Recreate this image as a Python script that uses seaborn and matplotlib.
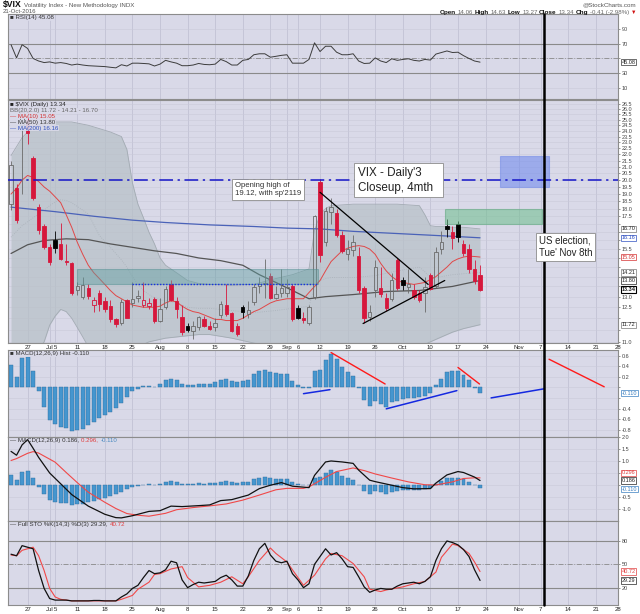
import numpy as np
import pandas as pd
import matplotlib
matplotlib.use("Agg")
import matplotlib.pyplot as plt
import matplotlib.transforms as mtransforms
from matplotlib.patches import Rectangle
from matplotlib.lines import Line2D
from matplotlib.ticker import FixedLocator, NullLocator, NullFormatter, FixedFormatter
import seaborn as sns

# ---------------- data ----------------
start_date = "2016-06-22"
end_date = "2016-11-28"
market_holidays = ["2016-07-04", "2016-09-05", "2016-11-24"]

opens = [18.3, 19.4, 24.5, 25.0, 21.7, 18.1, 16.9, 15.6, 16.0, 15.8,
         14.85, 14.7, 13.3, 13.0, 13.4, 12.6, 13.2, 12.8, 12.55, 11.95,
         11.8, 12.85, 12.7, 12.95, 12.6, 12.55, 12.9, 11.9, 12.5, 13.6,
         12.8, 12.05, 11.65, 11.45, 11.6, 11.95, 11.65, 11.6, 12.15, 12.6,
         12.25, 11.65, 12.5, 12.2, 12.75, 13.5, 13.6, 14.05, 12.95, 13.2,
         13.2, 13.5, 12.45, 12.0, 11.8, 13.0, 19.9, 15.9, 17.75, 17.7,
         16.3, 15.2, 15.45, 15.1, 13.4, 12.05, 13.3, 13.4, 12.95, 12.9,
         14.9, 13.8, 13.45, 13.3, 13.2, 13.2, 14.1, 13.5, 15.5, 16.9,
         16.5, 17.0, 15.8, 15.5, 14.4, 14.06]
highs = [21.5, 19.7, 26.7, 26.0, 21.9, 18.3, 17.0, 15.8, 16.6, 17.1,
         15.8, 14.8, 13.7, 14.0, 13.6, 13.0, 13.3, 13.0, 12.85, 12.0,
         12.9, 12.9, 13.7, 13.3, 13.7, 12.95, 13.0, 12.95, 13.5, 13.8,
         13.0, 12.6, 11.8, 11.9, 12.1, 12.1, 11.9, 12.0, 12.8, 13.6,
         12.3, 11.8, 12.6, 12.8, 13.6, 14.0, 14.95, 14.2, 13.5, 14.4,
         13.9, 13.6, 12.6, 12.3, 12.6, 17.6, 20.1, 18.1, 18.7, 18.0,
         16.6, 16.0, 16.3, 15.6, 13.5, 12.6, 14.9, 14.5, 13.2, 14.2,
         15.0, 14.0, 14.4, 13.6, 13.3, 14.0, 14.2, 15.6, 16.6, 17.3,
         16.9, 17.2, 16.0, 15.8, 14.9, 14.63]
lows = [17.9, 17.1, 19.0, 22.9, 18.6, 16.4, 15.5, 14.6, 15.3, 14.9,
        14.6, 13.1, 13.1, 12.9, 12.9, 12.3, 12.35, 12.3, 11.85, 11.6,
        11.7, 12.0, 12.5, 12.75, 12.5, 12.4, 11.8, 11.85, 12.4, 12.8,
        12.0, 11.3, 11.4, 11.1, 11.5, 11.6, 11.5, 11.45, 12.0, 12.1,
        11.4, 11.25, 12.0, 12.0, 12.6, 13.2, 12.95, 12.9, 12.9, 13.0,
        13.0, 11.9, 11.95, 11.8, 11.7, 12.9, 14.8, 15.7, 17.0, 16.2,
        15.3, 14.9, 15.1, 13.2, 11.8, 11.9, 13.0, 13.0, 12.35, 12.8,
        13.3, 13.3, 13.2, 12.9, 12.75, 12.3, 13.3, 13.4, 15.2, 16.2,
        15.5, 15.9, 15.1, 14.2, 13.6, 13.27]
closes = [21.17, 17.25, 25.76, 23.85, 18.75, 16.64, 15.63, 14.77, 15.58, 14.96,
          14.76, 13.20, 13.54, 13.55, 13.04, 12.82, 12.67, 12.44, 11.97, 11.77,
          12.74, 12.02, 12.87, 13.05, 12.83, 12.72, 11.87, 12.44, 13.37, 12.86,
          12.42, 11.39, 11.50, 11.66, 12.05, 11.68, 11.55, 11.81, 12.64, 12.19,
          11.43, 11.34, 12.27, 12.38, 13.45, 13.63, 13.65, 12.94, 13.12, 13.42,
          13.48, 11.98, 12.02, 11.94, 12.51, 17.50, 15.16, 17.85, 18.14, 16.30,
          15.37, 15.53, 15.92, 13.30, 12.02, 12.29, 14.50, 13.15, 12.45, 13.85,
          13.40, 13.57, 13.63, 12.99, 12.84, 13.48, 13.38, 15.36, 15.91, 16.69,
          16.12, 16.21, 15.28, 14.41, 13.75, 13.34]
prev_close_first = 18.48

ma10 = [19.0, 19.4, 20.0, 20.35, 20.2, 19.9, 19.5, 19.2, 18.8, 18.4,
        17.6, 16.8, 15.9, 15.2, 14.6, 14.2, 13.9, 13.6, 13.3, 13.05,
        12.9, 12.75, 12.6, 12.55, 12.5, 12.5, 12.5, 12.55, 12.7, 12.8,
        12.75, 12.55, 12.4, 12.3, 12.25, 12.15, 12.05, 11.95, 11.95, 11.9,
        11.9, 11.9, 12.0, 12.15, 12.3, 12.4, 12.55, 12.7, 12.8, 12.85,
        12.9, 12.9, 12.9, 12.9, 13.2, 13.5, 13.8, 14.3, 14.8, 15.1,
        15.4, 15.55, 15.65, 15.7, 15.65, 15.5, 15.2, 14.7, 14.3, 14.0,
        13.8, 13.7, 13.65, 13.6, 13.65, 13.7, 13.85, 14.0, 14.25, 14.5,
        14.8, 14.95, 15.05, 15.1, 15.08, 15.05]
ma50_days = [0, 3, 6, 10, 14, 18, 22, 26, 30, 34, 38, 42, 45, 48, 51, 54, 57, 62, 68, 74, 80, 85]
ma50_vals = [15.25, 15.75, 16.0, 16.1, 16.05, 15.8, 15.6, 15.4, 15.25, 15.0, 14.85,
             14.6, 14.1, 13.7, 13.3, 12.9, 13.0, 13.1, 13.25, 13.3, 13.5, 13.8]
ma200_days = [0, 8, 15, 22, 28, 36, 44, 50, 56, 62, 68, 74, 80, 85]
ma200_vals = [18.1, 17.8, 17.5, 17.25, 17.1, 16.95, 16.85, 16.75, 16.7, 16.55, 16.45, 16.35, 16.25, 16.16]

bb_days = [0, 2, 4, 6, 7, 8, 9, 10, 11, 12, 13, 14, 16, 18, 20, 21, 22, 23, 24, 25, 26, 27, 28,
           30, 32, 34, 36, 40, 44, 48, 51, 54, 55, 56, 57, 58, 62, 66, 70, 74, 75, 76, 77, 78,
           80, 82, 85]
bb_upper = [21.9, 23.4, 24.4, 24.7, 24.75, 24.8, 24.8, 24.8, 24.8, 24.7, 24.6, 24.5, 24.2, 23.9,
            23.5, 22.4, 19.8, 18.3, 17.4, 16.5, 15.8, 15.0, 14.6, 14.2, 13.8, 13.65, 13.6, 13.55,
            13.6, 13.9, 14.1, 14.4, 16.6, 17.6, 18.0, 18.2, 18.3, 18.3, 18.3, 18.2, 17.6, 16.9,
            16.85, 16.85, 16.8, 16.8, 16.70]
bb_mid = [16.2, 16.9, 17.4, 17.9, 18.2, 18.45, 18.6, 18.55, 18.4, 18.15, 17.9, 17.65, 16.3, 15.6,
          14.9, 14.5, 14.0, 13.6, 13.3, 13.1, 12.95, 12.85, 12.8, 12.7, 12.5, 12.45, 12.45, 12.35,
          12.25, 12.35, 12.45, 12.55, 13.45, 13.8, 13.9, 13.95, 13.95, 14.05, 14.3, 14.5, 14.25,
          13.95, 13.95, 14.0, 14.1, 14.15, 14.21]
bb_lower = [10.5, 10.3, 10.4, 11.0, 11.7, 12.1, 12.4, 12.3, 12.0, 11.6, 11.2, 10.8, 10.4, 10.1,
            9.9, 9.9, 10.4, 10.7, 10.9, 11.0, 11.05, 11.1, 11.15, 11.2, 11.25, 11.3, 11.3, 11.15,
            10.95, 10.8, 10.8, 10.7, 10.3, 10.0, 9.8, 9.7, 9.6, 9.8, 10.3, 10.8, 10.9, 11.0,
            11.1, 11.2, 11.4, 11.55, 11.72]

rsi = [68.5, 50.8, 68.5, 63.5, 50, 46.6, 44.5, 45.4, 43.7, 44.5,
       43.3, 41.2, 42.4, 41.2, 40.3, 39.9, 39.5, 39.1, 38.2, 37.4,
       41.6, 39.9, 43.7, 43.7, 43.3, 42.8, 39.9, 42.4, 47.5, 45.4,
       43.7, 40.3, 40.3, 41.2, 43.3, 42, 41.6, 42.4, 48.7, 45.8,
       41.2, 41.2, 47.5, 48.7, 55, 56.3, 56.3, 51.7, 52.9, 54.2,
       55, 43.7, 43.7, 43.7, 48.7, 71, 59.3, 66.4, 66.4, 58.4,
       55, 55, 56.3, 46.6, 43.3, 43.7, 50.8, 46.6, 44.5, 49.6,
       47.5, 48.7, 49.6, 47.5, 46.6, 48.7, 47.9, 55.9, 58, 60.1,
       58, 58.4, 53.8, 50, 46.6, 45.08]

macd_hist = [0.425, 0.19, 0.55, 0.58, 0.30, -0.075, -0.375, -0.61, -0.70, -0.75,
             -0.76, -0.825, -0.81, -0.78, -0.72, -0.66, -0.575, -0.53, -0.47, -0.39,
             -0.29, -0.18, -0.075, -0.03, 0.02, 0.025, 0.01, 0.06, 0.14, 0.155,
             0.14, 0.06, 0.045, 0.05, 0.07, 0.06, 0.07, 0.095, 0.14, 0.155,
             0.11, 0.095, 0.11, 0.14, 0.25, 0.30, 0.32, 0.29, 0.27, 0.255,
             0.25, 0.125, 0.05, -0.01, -0.02, 0.31, 0.33, 0.52, 0.63, 0.54,
             0.39, 0.28, 0.21, -0.01, -0.245, -0.36, -0.26, -0.31, -0.375, -0.275,
             -0.25, -0.22, -0.205, -0.20, -0.19, -0.17, -0.105, 0.05, 0.16, 0.29,
             0.31, 0.31, 0.24, 0.13, -0.01, -0.110]
macd_days = [0, 1, 2, 3, 4, 5, 7, 9, 11, 14, 17, 19, 20, 22, 25, 27, 29, 31, 34, 36, 38, 40, 43,
             45, 47, 49, 51, 54, 55, 57, 58, 60, 62, 63, 65, 66, 68, 71, 73, 76, 77, 79, 81, 82,
             84, 85]
macd_vals = [1.40, 1.24, 1.67, 1.89, 1.53, 1.15, 0.50, 0.05, -0.40, -0.88, -1.22, -1.36, -1.37,
             -1.28, -1.10, -1.07, -0.88, -0.90, -0.86, -0.83, -0.65, -0.61, -0.42, -0.15, -0.01,
             0.10, -0.05, -0.11, 0.40, 0.96, 1.00, 0.96, 0.90, 0.62, 0.20, 0.14, 0.04, -0.11,
             -0.16, -0.15, 0.08, 0.42, 0.56, 0.52, 0.33, 0.186]
signal_days = [0, 1, 3, 4, 5, 8, 10, 12, 14, 17, 19, 21, 23, 25, 28, 30, 33, 36, 39, 42, 45, 48,
               50, 53, 54, 57, 59, 62, 64, 66, 69, 72, 75, 77, 80, 82, 84, 85]
signal_vals = [1.02, 1.10, 1.32, 1.39, 1.33, 0.95, 0.52, 0.10, -0.30, -0.72, -0.98, -1.19, -1.26,
               -1.30, -1.18, -1.03, -0.94, -0.87, -0.79, -0.63, -0.42, -0.20, -0.14, -0.14, -0.08,
               0.32, 0.56, 0.71, 0.60, 0.46, 0.29, 0.13, 0.01, 0.0, 0.13, 0.27, 0.30, 0.296]

sto_k = [63, 61, 74, 72, 70, 42, 19, 6, 4, 4,
         4, 3, 3, 3, 3, 3.5, 3.5, 3, 3, 3,
         8, 12, 19, 23, 33, 42, 38, 39, 43, 54,
         52, 30, 20, 24, 27, 26, 27, 28, 33, 36,
         30, 22, 22, 35, 55, 70, 77, 62, 54, 52,
         54, 38, 30, 20, 25, 50, 60, 70, 62, 65,
         57, 47, 46, 34, 21, 14, 17, 19, 18, 18,
         22, 25, 26, 27, 25, 28, 34, 55, 70, 80,
         78, 75, 69, 60, 43, 29.29]
sto_d_days = [0, 1, 2, 4, 5, 6, 7, 8, 9, 11, 19, 20, 22, 23, 25, 26, 27, 29, 31, 32, 34, 36, 38,
              40, 42, 43, 45, 47, 48, 50, 51, 53, 55, 57, 58, 60, 62, 64, 65, 67, 68, 71, 73, 75,
              77, 78, 80, 81, 83, 84, 85]
sto_d_vals = [62, 61, 68, 72, 61, 42, 19, 8, 5, 3, 3, 5, 10, 18, 27, 37, 38, 44, 47, 33, 21, 23,
              27, 34, 25, 34, 55, 71, 64, 53, 43, 23, 36, 57, 64, 61, 51, 34, 18, 15, 17, 21, 25,
              28, 40, 59, 76, 74, 64, 53, 40.72]

# chart annotations (drawn by the author on the chart), in day-index / value units
support_zone = [11.9, 55.6, 13.6, 14.4]
gap_zone_green = [78.6, 96.3, 17.0, 18.0]
target_zone_blue = [88.6, 97.5, 19.5, 21.9]
level_20 = 20.0
dotted_level = [21.9, 55.6, 13.62]
down_trend = [[56, 75.6], [19.12, 13.6]]
up_trend = [[63.8, 78.6], [11.77, 13.8]]
hist_red_lines = [[[58, 67.8], [0.656, 0.0625]], [[81, 84.9], [0.375, 0.0625]], [[97.5, 107.5], [0.53, 0.01]]]
hist_blue_lines = [[[53, 57.8], [-0.12, -0.044]], [[68, 80.8], [-0.406, -0.0625]], [[87, 96.5], [-0.2, -0.03]]]
election_day = "2016-11-08"
note_open = ["Opening high of\n19.12, with sp'2119", 40.6, 19.9]
note_title = ["VIX - Daily'3  \nCloseup, 4mth  ", 62.8, 21.0]
note_election = ["US election,\nTue' Nov 8th", 95.7, 16.3]

xtick_dates = ["2016-06-27", "2016-07-01", "2016-07-05", "2016-07-11", "2016-07-18", "2016-07-25",
               "2016-08-01", "2016-08-08", "2016-08-15", "2016-08-22", "2016-08-29", "2016-09-01",
               "2016-09-06", "2016-09-12", "2016-09-19", "2016-09-26", "2016-10-03", "2016-10-10",
               "2016-10-17", "2016-10-24", "2016-11-01", "2016-11-07", "2016-11-14", "2016-11-21",
               "2016-11-28"]
xtick_labels = ["27", "Jul", "5", "11", "18", "25", "Aug", "8", "15", "22", "29", "Sep", "6", "12",
                "19", "26", "Oct", "10", "17", "24", "Nov", "7", "14", "21", "28"]

# ---------------- setup ----------------
sns.set_theme(style="white")
plt.rcParams['font.family'] = ['Liberation Sans', 'DejaVu Sans']

days = pd.bdate_range(start_date, end_date)
days = days[~days.isin(pd.to_datetime(market_holidays))]
idx = np.arange(len(closes))
tick_pos = [days.get_loc(pd.Timestamp(d)) for d in xtick_dates]
elect_x = days.get_loc(pd.Timestamp(election_day)) - 0.5

BG = '#d9d9e8'
GRID = '#c2c2d4'
RED = '#d6173c'
TICK_FS = 4.0
LEG_FS = 4.4

fig = plt.figure(figsize=(6.4, 6.14), dpi=100)
fig.patch.set_facecolor('white')
LFT, WID = 8 / 640, 610 / 640


def add(ytop, ybot):
    return fig.add_axes([LFT, 1 - ybot / 614, WID, (ybot - ytop) / 614])


ax_rsi = add(14, 99.3)
ax_main = add(100, 343.3)
ax_hist = add(350, 436.5)
ax_macd = add(436.5, 521)
ax_sto = add(521, 605)
axes = [ax_rsi, ax_main, ax_hist, ax_macd, ax_sto]

for ax in axes:
    ax.set_facecolor(BG)
    ax.set_xlim(-0.55, 110.0)
    ax.xaxis.set_major_locator(FixedLocator(tick_pos))
    ax.xaxis.set_major_formatter(FixedFormatter(xtick_labels))
    ax.xaxis.set_minor_locator(NullLocator())
    ax.grid(axis='x', color=GRID, lw=0.6)
    ax.grid(axis='y', color='#cacad9', lw=0.4)
    ax.set_axisbelow(True)
    ax.yaxis.tick_right()
    ax.tick_params(axis='y', which='both', labelsize=TICK_FS, colors='#444444', length=1.5, pad=1,
                   width=0.4, right=True, left=False)
    ax.tick_params(axis='x', labelsize=4.3, colors='#222222', length=0, pad=1.2)
    if ax not in (ax_main, ax_sto):
        ax.tick_params(axis='x', labelbottom=False)
    for s in ax.spines.values():
        s.set_color('#8c8c8c')
        s.set_linewidth(0.8)
    ax.set_xlabel('')
    ax.set_ylabel('')


def set_yticks(ax, ticks, fmt, box_vals, px=6.5):
    """Tick labels on the right; labels hidden where a value box covers them."""
    ax.yaxis.set_major_locator(FixedLocator(ticks))
    labels = []
    for t in ticks:
        yt = ax.transData.transform((0, t))[1]
        near = any(abs(yt - ax.transData.transform((0, v))[1]) < px for v in box_vals)
        labels.append('' if near else fmt % t)
    ax.yaxis.set_major_formatter(FixedFormatter(labels))


def vbox(ax, val, txt, ec, tc='#222222', bold=False, lw=0.5, dy_pt=0.0):
    tr = mtransforms.blended_transform_factory(ax.transAxes, ax.transData)
    if dy_pt:
        tr = mtransforms.offset_copy(tr, fig=fig, y=dy_pt, units='points')
    ax.text(1.006, val, txt, transform=tr, ha='left', va='center', fontsize=TICK_FS, color=tc,
            fontweight='bold' if bold else 'normal',
            bbox=dict(boxstyle='square,pad=0.12', fc='white', ec=ec, lw=lw), clip_on=False, zorder=10)


def legend(ax, lines, y0=0.985, dy=None):
    dy = dy if dy is not None else 0.0
    for k, (txt, col) in enumerate(lines):
        ax.text(0.004, y0 - k * dy, txt, transform=ax.transAxes, ha='left', va='top', fontsize=LEG_FS,
                color=col, zorder=12,
                bbox=dict(boxstyle='square,pad=0.05', fc=BG, ec='none', alpha=0.9))


# ---------------- RSI ----------------
sns.lineplot(x=idx, y=rsi, ax=ax_rsi, color='#3c3c3c', lw=0.7, estimator=None, sort=False, legend=False)
ax_rsi.set_ylim(-4.8, 109.7)
set_yticks(ax_rsi, [90, 70, 50, 30, 10], '%d', [rsi[-1]])
for lv in (70, 30):
    ax_rsi.axhline(lv, color='#8a8a8a', lw=0.8, zorder=1)
ax_rsi.axhline(50, color='#8a8a8a', lw=0.6, ls=(0, (6, 2, 1, 2)), zorder=1)
legend(ax_rsi, [("■ RSI(14) %.2f" % rsi[-1], '#333333')])
vbox(ax_rsi, rsi[-1], "%.2f" % rsi[-1], '#333333')

# ---------------- main price panel ----------------
axm = ax_main
axm.set_yscale('log')
axm.set_ylim(10.94, 26.9)
axm.yaxis.set_minor_locator(NullLocator())
axm.yaxis.set_minor_formatter(NullFormatter())
main_boxes = [bb_upper[-1], ma200_vals[-1], ma10[-1], bb_mid[-1], ma50_vals[-1], closes[-1], bb_lower[-1]]
set_yticks(axm, list(np.arange(11.0, 26.51, 0.5)), '%.1f', main_boxes)

axm.fill_between(bb_days, bb_lower, bb_upper, color='#b7c0c7', alpha=0.72, lw=0, zorder=1)
sns.lineplot(x=bb_days, y=bb_upper, ax=axm, color='#a3abb3', lw=0.6, estimator=None, sort=False, legend=False)
sns.lineplot(x=bb_days, y=bb_lower, ax=axm, color='#a3abb3', lw=0.6, estimator=None, sort=False, legend=False)
sns.lineplot(x=bb_days, y=bb_mid, ax=axm, color='#aab2ba', lw=0.6, ls=':', estimator=None, sort=False, legend=False)
sns.lineplot(x=ma200_days, y=ma200_vals, ax=axm, color='#4a62b8', lw=0.9, estimator=None, sort=False, legend=False)
sns.lineplot(x=ma50_days, y=ma50_vals, ax=axm, color='#555555', lw=0.9, estimator=None, sort=False, legend=False)
sns.lineplot(x=idx, y=ma10, ax=axm, color='#e04848', lw=0.7, estimator=None, sort=False, legend=False)

# candles
prev = [prev_close_first] + closes[:-1]
for i in idx:
    o, h, l, c = opens[i], highs[i], lows[i], closes[i]
    col = RED if c < prev[i] else ('#000000' if c < o else '#6a6a6a')
    filled = c < o
    top, bot = max(o, c), min(o, c)
    if bot == top:
        top = bot * 1.004
    axm.vlines(i, top, h, colors=col, lw=0.6, zorder=3)
    axm.vlines(i, l, bot, colors=col, lw=0.6, zorder=3)
    axm.bar(i, top - bot, bottom=bot, width=0.62, facecolor=col if filled else 'none',
            edgecolor=col, linewidth=0.6, zorder=4)

# author annotations
for (x0, x1, y0, y1), fc, ec, al in [(support_zone, '#5f9ea0', '#4a8a8c', 0.45),
                                     (gap_zone_green, '#6cbf8c', '#5aa57a', 0.55),
                                     (target_zone_blue, '#6a86ee', '#7088e8', 0.55)]:
    axm.add_patch(Rectangle((x0, y0), x1 - x0, y1 - y0, facecolor=fc, edgecolor=ec, alpha=al,
                            lw=0.8, zorder=5))
axm.axhline(level_20, color='#1414c8', lw=1.1, ls=(0, (9, 3, 1.5, 3)), zorder=6)
axm.plot([dotted_level[0], dotted_level[1]], [dotted_level[2], dotted_level[2]], color='#1a2ee0',
         lw=1.0, ls=(0, (1, 1.2)), zorder=6)
axm.plot(down_trend[0], down_trend[1], color='black', lw=0.9, zorder=7)
axm.plot(up_trend[0], up_trend[1], color='black', lw=0.9, zorder=7)

axm.text(note_open[1], note_open[2], note_open[0], ha='left', va='top', fontsize=5.6, color='#333333',
         linespacing=1.35, zorder=9, bbox=dict(boxstyle='square,pad=0.35', fc='white', ec='#8c8c8c', lw=0.6))
axm.text(note_title[1], note_title[2], note_title[0], ha='left', va='top', fontsize=8.4, color='#222222',
         linespacing=1.3, zorder=9, bbox=dict(boxstyle='square,pad=0.3', fc='white', ec='#8c8c8c', lw=0.6))

legend(axm, [("■ $VIX (Daily) %.2f" % closes[-1], '#222222'),
             ("BB(20,2.0) %.2f - %.2f - %.2f" % (bb_lower[-1], bb_mid[-1], bb_upper[-1]), '#666666'),
             ("— MA(10) %.2f" % ma10[-1], '#d43030'),
             ("— MA(50) %.2f" % ma50_vals[-1], '#333333'),
             ("— MA(200) %.2f" % ma200_vals[-1], '#3050c0')], y0=0.99, dy=0.024)

vbox(axm, bb_upper[-1], "%.2f" % bb_upper[-1], '#777777')
vbox(axm, ma200_vals[-1], "%.2f" % ma200_vals[-1], '#3050c0', tc='#3050c0')
vbox(axm, ma10[-1], "%.2f" % ma10[-1], '#d43030', tc='#d43030')
vbox(axm, bb_mid[-1], "%.2f" % bb_mid[-1], '#777777')
vbox(axm, ma50_vals[-1], "%.2f" % ma50_vals[-1], '#222222')
vbox(axm, closes[-1], "%.2f" % closes[-1], '#000000', bold=True, lw=0.8)
vbox(axm, bb_lower[-1], "%.2f" % bb_lower[-1], '#777777')

# ---------------- MACD histogram ----------------
for ax in (ax_hist, ax_macd):
    ax.bar(idx, macd_hist, width=0.72, color='#4596cf', edgecolor='#2e6e9e', linewidth=0.3, zorder=2)
ax_hist.set_ylim(-0.928, 0.704)
set_yticks(ax_hist, [0.6, 0.4, 0.2, 0.0, -0.2, -0.4, -0.6, -0.8], '%.1f', [macd_hist[-1]])
for xs, ys in hist_red_lines:
    ax_hist.plot(xs, ys, color='#ff1a1a', lw=1.0, zorder=5)
for xs, ys in hist_blue_lines:
    ax_hist.plot(xs, ys, color='#1428e0', lw=1.1, zorder=5)
legend(ax_hist, [("■ MACD(12,26,9) Hist %.3f" % macd_hist[-1], '#333333')])
vbox(ax_hist, macd_hist[-1], "%.3f" % macd_hist[-1], '#3a7fc0', tc='#3a7fc0')

# ---------------- MACD lines ----------------
sns.lineplot(x=signal_days, y=signal_vals, ax=ax_macd, color='#f04848', lw=0.8, estimator=None, sort=False, legend=False)
sns.lineplot(x=macd_days, y=macd_vals, ax=ax_macd, color='#111111', lw=0.9, estimator=None, sort=False, legend=False)
ax_macd.set_ylim(-1.5, 2.02)
set_yticks(ax_macd, [2.0, 1.5, 1.0, 0.5, 0.0, -0.5, -1.0], '%.1f',
           [signal_vals[-1], macd_vals[-1], macd_hist[-1]])
tr = ax_macd.transAxes
t1 = ax_macd.text(0.004, 0.985, "— MACD(12,26,9) %.3f, " % macd_vals[-1], transform=tr, ha='left', va='top',
                  fontsize=LEG_FS, color='#333333', zorder=12)
vbox(ax_macd, signal_vals[-1], "%.3f" % signal_vals[-1], '#e04040', tc='#e04040', dy_pt=3.6)
vbox(ax_macd, macd_vals[-1], "%.3f" % macd_vals[-1], '#222222')
vbox(ax_macd, macd_hist[-1], "%.3f" % macd_hist[-1], '#3a7fc0', tc='#3a7fc0', dy_pt=-1.0)

# ---------------- Stochastics ----------------
sns.lineplot(x=sto_d_days, y=sto_d_vals, ax=ax_sto, color='#f04848', lw=0.8, estimator=None, sort=False, legend=False)
sns.lineplot(x=idx, y=sto_k, ax=ax_sto, color='#111111', lw=0.9, estimator=None, sort=False, legend=False)
ax_sto.set_ylim(-2.3, 105.7)
set_yticks(ax_sto, [80, 50, 20], '%d', [sto_d_vals[-1], sto_k[-1]])
for lv in (80, 20):
    ax_sto.axhline(lv, color='#8a8a8a', lw=0.8, zorder=1)
ax_sto.axhline(50, color='#8a8a8a', lw=0.6, ls=(0, (6, 2, 1, 2)), zorder=1)
vbox(ax_sto, sto_d_vals[-1], "%.2f" % sto_d_vals[-1], '#e04040', tc='#e04040')
vbox(ax_sto, sto_k[-1], "%.2f" % sto_k[-1], '#222222')

# ---------------- election line & note ----------------
btr = mtransforms.blended_transform_factory(ax_main.transData, fig.transFigure)
fig.lines.append(Line2D([elect_x, elect_x], [1 - 605 / 614, 1 - 14 / 614], transform=btr,
                        color='black', lw=1.8, zorder=2.5))
fig.text(note_election[1], note_election[2], note_election[0], transform=ax_main.transData,
         ha='left', va='top', fontsize=6.9, color='#222222', linespacing=1.35, zorder=3,
         bbox=dict(boxstyle='square,pad=0.3', fc='white', ec='#8c8c8c', lw=0.6))

# ---------------- header & multi-colour legends ----------------
fig.canvas.draw()
rend = fig.canvas.get_renderer()


def seq(xpx, ypx, parts, align='left', gap=0.0):
    order = parts[::-1] if align == 'right' else parts
    x = xpx
    for s, kw in order:
        t = fig.text(x / 640, 1 - ypx / 614, s, ha=align, va='center', **kw)
        w = t.get_window_extent(renderer=rend).width + gap
        x = x + w if align == 'left' else x - w


seq(3, 5, [("$VIX", dict(fontsize=6.2, fontweight='bold', color='#111111')),
           ("Volatility Index - New Methodology INDX", dict(fontsize=4.4, color='#555555'))], gap=2)
fig.text(3 / 640, 1 - 11.8 / 614, "21-Oct-2016", fontsize=4.3, color='#555555', ha='left', va='center')
fig.text(636 / 640, 1 - 5 / 614, "@StockCharts.com", fontsize=4.5, color='#555555', ha='right', va='center')
chg = closes[-1] - closes[-2]
pct = chg / closes[-2] * 100
B = dict(fontsize=4.6, fontweight='bold', color='#111111')
N = dict(fontsize=4.4, color='#666666')
seq(636, 12.2, [("Open", B), ("%.2f" % opens[-1], N), ("High", B), ("%.2f" % highs[-1], N),
                ("Low", B), ("%.2f" % lows[-1], N), ("Close", B), ("%.2f" % closes[-1], N),
                ("Chg", B), ("%.2f (%.2f%%)" % (chg, pct), N), ("▼", dict(fontsize=4.0, color='#d01010'))],
    align='right', gap=1.6)

bb1 = t1.get_window_extent(renderer=rend)
y_macd_leg = 614 - (bb1.y0 + bb1.y1) / 2
seq(bb1.x1, y_macd_leg, [("%.3f, " % signal_vals[-1], dict(fontsize=LEG_FS, color='#e03c3c')),
                         ("%.3f" % macd_hist[-1], dict(fontsize=LEG_FS, color='#4a8ac0'))], gap=0.5)

t2 = ax_sto.text(0.004, 0.985, "— Full STO %%K(14,3) %%D(3) %.2f, " % sto_k[-1], transform=ax_sto.transAxes,
                 ha='left', va='top', fontsize=LEG_FS, color='#333333', zorder=12)
bb2 = t2.get_window_extent(renderer=rend)
seq(bb2.x1, 614 - (bb2.y0 + bb2.y1) / 2, [("%.2f" % sto_d_vals[-1], dict(fontsize=LEG_FS, color='#e03c3c'))])

fig.savefig("out.png", dpi=100, facecolor='white')
